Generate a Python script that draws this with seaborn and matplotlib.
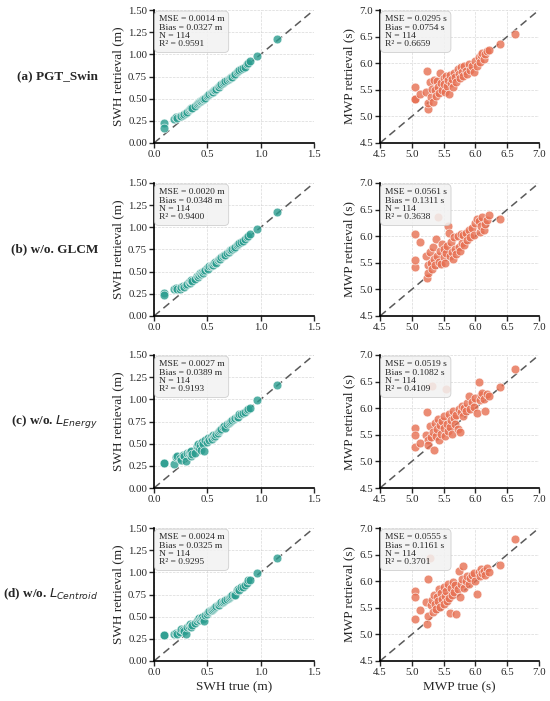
import matplotlib
matplotlib.use('Agg')
import matplotlib.pyplot as plt
import seaborn as sns
import pandas as pd

# true values (same samples for every row)
swh_true = [0.09, 0.09, 0.19, 0.21, 0.22, 0.24, 0.25, 0.27, 0.28, 0.30,
            0.31, 0.33, 0.34, 0.35, 0.35, 0.36, 0.38, 0.40, 0.41, 0.42,
            0.43, 0.44, 0.45, 0.46, 0.47, 0.48, 0.50, 0.51, 0.52, 0.53,
            0.54, 0.55, 0.56, 0.57, 0.58, 0.60, 0.61, 0.62, 0.63, 0.65,
            0.66, 0.67, 0.68, 0.70, 0.71, 0.72, 0.73, 0.75, 0.76, 0.78,
            0.79, 0.80, 0.82, 0.83, 0.85, 0.87, 0.88, 0.90, 0.97, 1.15]
mwp_true = [5.05, 5.05, 5.05, 5.13, 5.22, 5.24, 5.25, 5.26, 5.28, 5.30,
            5.31, 5.33, 5.35, 5.36, 5.38, 5.40, 5.41, 5.43, 5.45, 5.46,
            5.48, 5.50, 5.51, 5.52, 5.54, 5.55, 5.57, 5.58, 5.60, 5.61,
            5.63, 5.65, 5.66, 5.68, 5.70, 5.72, 5.74, 5.75, 5.77, 5.79,
            5.80, 5.82, 5.85, 5.87, 5.90, 5.92, 5.95, 5.98, 6.00, 6.03,
            6.05, 6.07, 6.09, 6.10, 6.13, 6.15, 6.18, 6.22, 6.38, 6.62]

# retrievals per model
swh_a = [0.23, 0.17, 0.27, 0.29, 0.28, 0.31, 0.30, 0.32, 0.33, 0.34,
         0.35, 0.37, 0.38, 0.40, 0.39, 0.40, 0.42, 0.44, 0.45, 0.46,
         0.47, 0.47, 0.49, 0.50, 0.50, 0.51, 0.53, 0.54, 0.55, 0.56,
         0.57, 0.58, 0.60, 0.60, 0.61, 0.63, 0.63, 0.65, 0.66, 0.68,
         0.69, 0.70, 0.71, 0.72, 0.73, 0.75, 0.75, 0.77, 0.78, 0.80,
         0.81, 0.82, 0.83, 0.85, 0.86, 0.89, 0.90, 0.92, 0.98, 1.17]
swh_b = [0.26, 0.24, 0.30, 0.32, 0.30, 0.31, 0.33, 0.34, 0.33, 0.35,
         0.36, 0.38, 0.37, 0.40, 0.41, 0.40, 0.42, 0.45, 0.44, 0.46,
         0.48, 0.47, 0.50, 0.49, 0.51, 0.52, 0.54, 0.53, 0.56, 0.56,
         0.58, 0.57, 0.60, 0.61, 0.60, 0.63, 0.64, 0.64, 0.66, 0.68,
         0.69, 0.69, 0.71, 0.72, 0.74, 0.74, 0.76, 0.77, 0.78, 0.80,
         0.81, 0.82, 0.84, 0.85, 0.87, 0.89, 0.90, 0.92, 0.98, 1.17]
swh_c = [0.28, 0.28, 0.27, 0.35, 0.36, 0.34, 0.32, 0.37, 0.36, 0.31,
         0.40, 0.39, 0.41, 0.36, 0.42, 0.38, 0.40, 0.47, 0.50, 0.45,
         0.48, 0.43, 0.52, 0.50, 0.42, 0.54, 0.52, 0.56, 0.54, 0.57,
         0.55, 0.60, 0.58, 0.59, 0.61, 0.62, 0.64, 0.65, 0.66, 0.69,
         0.70, 0.68, 0.72, 0.73, 0.74, 0.76, 0.77, 0.78, 0.79, 0.80,
         0.80, 0.83, 0.84, 0.85, 0.86, 0.88, 0.89, 0.90, 0.99, 1.16]
swh_d = [0.29, 0.29, 0.31, 0.32, 0.30, 0.33, 0.36, 0.35, 0.34, 0.31,
         0.38, 0.40, 0.42, 0.40, 0.38, 0.41, 0.43, 0.45, 0.47, 0.48,
         0.46, 0.49, 0.50, 0.47, 0.45, 0.52, 0.53, 0.55, 0.56, 0.57,
         0.58, 0.59, 0.60, 0.61, 0.62, 0.63, 0.63, 0.65, 0.66, 0.67,
         0.68, 0.69, 0.70, 0.71, 0.72, 0.73, 0.74, 0.75, 0.74, 0.80,
         0.81, 0.80, 0.84, 0.83, 0.86, 0.88, 0.91, 0.91, 0.99, 1.16]

mwp_a = [5.55, 5.33, 5.32, 5.42, 5.45, 5.86, 5.14, 5.26, 5.64, 5.36,
         5.52, 5.28, 5.69, 5.50, 5.38, 5.66, 5.55, 5.44, 5.82, 5.62,
         5.50, 5.72, 5.60, 5.45, 5.76, 5.58, 5.68, 5.42, 5.78, 5.62,
         5.70, 5.55, 5.82, 5.74, 5.64, 5.90, 5.80, 5.72, 5.92, 5.84,
         5.76, 5.95, 5.86, 5.80, 5.98, 5.88, 5.94, 5.84, 6.05, 5.95,
         6.12, 6.02, 6.15, 6.20, 6.08, 6.18, 6.22, 6.25, 6.36, 6.55]
mwp_b = [6.04, 5.42, 5.55, 5.89, 5.62, 5.21, 5.45, 5.30, 5.70, 5.50,
         5.38, 5.80, 5.58, 5.45, 5.95, 5.62, 6.37, 5.52, 5.72, 5.48,
         5.85, 5.60, 5.75, 5.50, 5.68, 5.82, 6.19, 6.06, 5.62, 5.90,
         5.70, 5.58, 5.98, 5.76, 5.66, 6.00, 5.80, 5.72, 6.05, 5.88,
         6.02, 5.84, 6.06, 5.92, 6.12, 5.98, 6.15, 6.02, 6.24, 6.32,
         6.28, 6.08, 6.20, 6.36, 6.12, 6.22, 6.30, 6.40, 6.33, 7.10]
mwp_c = [5.62, 5.49, 5.28, 5.34, 5.50, 5.92, 5.40, 5.30, 5.66, 5.45,
         6.42, 5.55, 5.22, 5.72, 5.48, 5.60, 5.80, 5.40, 5.68, 5.52,
         5.75, 5.62, 5.85, 5.48, 6.36, 5.70, 5.58, 5.90, 5.65, 5.78,
         5.52, 5.95, 5.82, 5.70, 5.88, 5.60, 5.98, 5.55, 5.92, 6.05,
         5.85, 6.00, 5.95, 6.10, 6.22, 5.98, 6.12, 6.02, 6.20, 5.91,
         6.49, 6.15, 6.25, 6.28, 6.18, 5.95, 6.26, 6.22, 6.39, 6.73]
mwp_d = [5.81, 5.70, 5.29, 5.45, 5.60, 5.19, 6.04, 5.35, 6.43, 5.55,
         5.65, 5.42, 5.75, 5.58, 5.48, 5.70, 5.62, 5.85, 5.52, 5.78,
         5.66, 5.90, 5.58, 5.72, 5.82, 5.62, 5.95, 5.68, 5.40, 5.88,
         5.75, 5.98, 5.80, 5.92, 5.38, 5.85, 6.20, 5.70, 5.95, 6.05,
         6.28, 5.88, 6.00, 6.10, 5.95, 6.06, 6.12, 6.15, 6.00, 5.76,
         6.18, 6.10, 6.22, 6.15, 6.20, 6.12, 6.25, 6.18, 6.31, 6.79]

row_labels = ['(a) PGT_Swin', '(b) w/o. GLCM',
              r'(c) w/o. $L_{Energy}$', r'(d) w/o. $L_{Centroid}$']
swh_ret = [swh_a, swh_b, swh_c, swh_d]
mwp_ret = [mwp_a, mwp_b, mwp_c, mwp_d]
swh_stats = [('0.0014', '0.0327', '0.9591'), ('0.0020', '0.0348', '0.9400'),
             ('0.0027', '0.0389', '0.9193'), ('0.0024', '0.0325', '0.9295')]
mwp_stats = [('0.0295', '0.0754', '0.6659'), ('0.0561', '0.1311', '0.3638'),
             ('0.0519', '0.1082', '0.4109'), ('0.0555', '0.1161', '0.3701')]
n_samples = 114

teal = '#2a9d8f'
coral = '#e76f51'

sns.set_style('ticks')
plt.rcParams['font.family'] = ['Liberation Serif', 'DejaVu Serif']
plt.rcParams['mathtext.fontset'] = 'dejavusans'

W, H = 550, 701
fig = plt.figure(figsize=(W / 100, H / 100), dpi=100)
row_tops = [10, 183, 355, 528]
ax_h = 133

swh_ticks = [0, 0.25, 0.5, 0.75, 1.0, 1.25, 1.5]
mwp_ticks = [4.5, 5.0, 5.5, 6.0, 6.5, 7.0]


def style_axes(ax, lo, hi):
    ax.set_xlim(lo, hi)
    ax.set_ylim(lo, hi)
    ax.grid(True, linestyle='--', linewidth=0.5, color='#d0d0d0', alpha=0.8)
    ax.set_axisbelow(True)
    sns.despine(ax=ax)
    for sp in ['left', 'bottom']:
        ax.spines[sp].set_linewidth(1.2)
        ax.spines[sp].set_color('black')
    ax.tick_params(labelsize=7.8, length=3.5, width=1.0, direction='out', pad=1.5)
    ax.plot([lo, hi], [lo, hi], linestyle=(0, (5, 3)), color='#5a5a5a', lw=1.1, zorder=1)


def stats_box(ax, mse, bias, r2, unit):
    txt = f'MSE = {mse} {unit}\nBias = {bias} {unit}\nN = {n_samples}\nR² = {r2}'
    ax.text(0.03, 0.96, txt, transform=ax.transAxes, ha='left', va='top',
            fontsize=6.8, linespacing=1.05, zorder=5,
            bbox=dict(boxstyle='round,pad=0.45', facecolor='#f2f2f2',
                      edgecolor='#c8c8c8', alpha=0.85, lw=0.6))


for i in range(4):
    top = row_tops[i]
    y0 = 1 - (top + ax_h) / H
    ax1 = fig.add_axes([154 / W, y0, 160 / W, ax_h / H])
    ax2 = fig.add_axes([380 / W, y0, 159 / W, ax_h / H])

    df1 = pd.DataFrame({'true': swh_true, 'ret': swh_ret[i]})
    df2 = pd.DataFrame({'true': mwp_true, 'ret': mwp_ret[i]})

    sns.scatterplot(data=df1, x='true', y='ret', ax=ax1, color=teal, s=40,
                    alpha=0.8, edgecolor='white', linewidth=0.5, zorder=3)
    sns.scatterplot(data=df2, x='true', y='ret', ax=ax2, color=coral, s=40,
                    alpha=0.8, edgecolor='white', linewidth=0.5, zorder=3)

    style_axes(ax1, 0, 1.5)
    ax1.set_xticks([0, 0.5, 1.0, 1.5])
    ax1.set_xticklabels(['0.0', '0.5', '1.0', '1.5'])
    ax1.set_yticks(swh_ticks)
    ax1.set_yticklabels([f'{t:.2f}' for t in swh_ticks])
    style_axes(ax2, 4.5, 7.0)
    ax2.set_xticks(mwp_ticks)
    ax2.set_xticklabels([f'{t:.1f}' for t in mwp_ticks])
    ax2.set_yticks(mwp_ticks)
    ax2.set_yticklabels([f'{t:.1f}' for t in mwp_ticks])

    ax1.set_ylabel('SWH retrieval (m)', fontsize=9.5, labelpad=3)
    ax2.set_ylabel('MWP retrieval (s)', fontsize=9.5, labelpad=3)
    if i == 3:
        ax1.set_xlabel('SWH true (m)', fontsize=9.5, labelpad=3)
        ax2.set_xlabel('MWP true (s)', fontsize=9.5, labelpad=3)
    else:
        ax1.set_xlabel('')
        ax2.set_xlabel('')

    stats_box(ax1, *swh_stats[i], 'm')
    stats_box(ax2, *mwp_stats[i], 's')

    fig.text(98 / W, 1 - (top + ax_h / 2) / H, row_labels[i], ha='right',
             va='center', fontsize=9.5, fontweight='bold')

fig.savefig('out.png', dpi=100)
